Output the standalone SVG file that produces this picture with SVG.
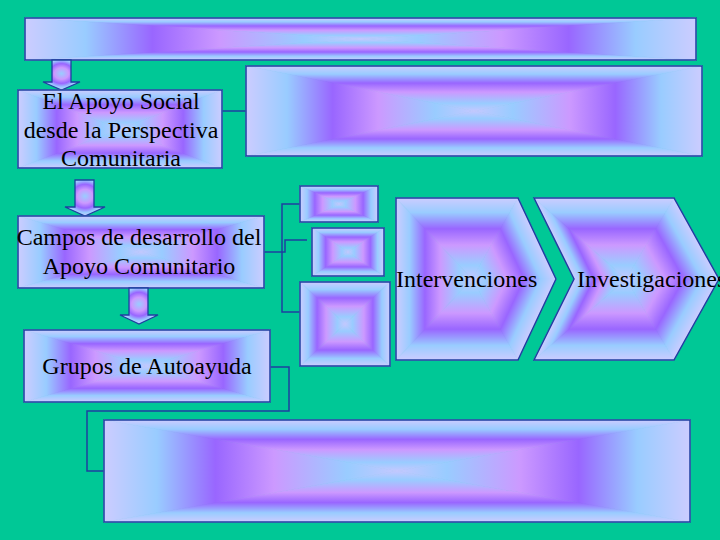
<svg xmlns="http://www.w3.org/2000/svg" xmlns:xlink="http://www.w3.org/1999/xlink" width="720" height="540" viewBox="0 0 720 540">
<defs>
<linearGradient id="st">
<stop offset="0" stop-color="#CCCCFF"/>
<stop offset="0.18" stop-color="#99CCFF"/>
<stop offset="0.38" stop-color="#9966FF"/>
<stop offset="0.58" stop-color="#CC99FF"/>
<stop offset="0.83" stop-color="#99CCFF"/>
<stop offset="1" stop-color="#C4C8FF"/>
</linearGradient>
<linearGradient id="gT" href="#st" xlink:href="#st" x1="0" y1="0" x2="0" y2="1"/>
<linearGradient id="gB" href="#st" xlink:href="#st" x1="0" y1="1" x2="0" y2="0"/>
<linearGradient id="gL" href="#st" xlink:href="#st" x1="0" y1="0" x2="1" y2="0"/>
<linearGradient id="gR" href="#st" xlink:href="#st" x1="1" y1="0" x2="0" y2="0"/>
<linearGradient id="c1t" href="#st" xlink:href="#st" gradientUnits="userSpaceOnUse" x1="472" y1="198" x2="472" y2="279"/>
<linearGradient id="c1b" href="#st" xlink:href="#st" gradientUnits="userSpaceOnUse" x1="472" y1="360" x2="472" y2="279"/>
<linearGradient id="c1l" href="#st" xlink:href="#st" gradientUnits="userSpaceOnUse" x1="396" y1="279" x2="472" y2="279"/>
<linearGradient id="c1u" href="#st" xlink:href="#st" gradientUnits="userSpaceOnUse" x1="540.85" y1="246.7" x2="472" y2="279"/>
<linearGradient id="c1d" href="#st" xlink:href="#st" gradientUnits="userSpaceOnUse" x1="540.85" y1="311.3" x2="472" y2="279"/>
<linearGradient id="c2t" href="#st" xlink:href="#st" gradientUnits="userSpaceOnUse" x1="626" y1="198" x2="626" y2="279"/>
<linearGradient id="c2b" href="#st" xlink:href="#st" gradientUnits="userSpaceOnUse" x1="626" y1="360" x2="626" y2="279"/>
<linearGradient id="c2u" href="#st" xlink:href="#st" gradientUnits="userSpaceOnUse" x1="697.07" y1="239.52" x2="626" y2="279"/>
<linearGradient id="c2d" href="#st" xlink:href="#st" gradientUnits="userSpaceOnUse" x1="697.07" y1="318.48" x2="626" y2="279"/>
<linearGradient id="c2lu" href="#st" xlink:href="#st" gradientUnits="userSpaceOnUse" x1="584.2" y1="299.6" x2="626" y2="279"/>
<linearGradient id="c2ld" href="#st" xlink:href="#st" gradientUnits="userSpaceOnUse" x1="584.2" y1="258.4" x2="626" y2="279"/>
<radialGradient id="ga" cx="0.5" cy="0.45" r="0.55">
<stop offset="0" stop-color="#99CCFF"/>
<stop offset="0.35" stop-color="#CC99FF"/>
<stop offset="0.6" stop-color="#9966FF"/>
<stop offset="0.82" stop-color="#99CCFF"/>
<stop offset="1" stop-color="#CCCCFF"/>
</radialGradient>
</defs>
<style>
.t{fill:url(#gT);stroke:url(#gT);stroke-width:.8}
.b{fill:url(#gB);stroke:url(#gB);stroke-width:.8}
.l{fill:url(#gL);stroke:url(#gL);stroke-width:.8}
.r{fill:url(#gR);stroke:url(#gR);stroke-width:.8}
.o{fill:none;stroke:#1E3FA0;stroke-width:1.5}
.arr{fill:url(#ga);stroke:#1E3FA0;stroke-width:1.3}
.cn{fill:none;stroke:#1E3FA0;stroke-width:1.5}
text{font-family:"Liberation Serif","Times New Roman",serif;font-size:24px;fill:#000}
.m{text-anchor:middle}
</style>
<rect width="720" height="540" fill="#00C896"/>

<g id="connectors">
<path class="cn" d="M222,111 H246"/>
<path class="cn" d="M264,252 H282 V204 H300"/>
<path class="cn" d="M282,252 V312 H300"/>
<path class="cn" d="M282,252 H285 V240 H307"/>
<path class="cn" d="M270,367 H289 V411 H87 V471 H104"/>
</g>

<g id="topbar">
<polygon class="t" points="25,18 696,18 360.5,39"/>
<polygon class="b" points="25,60 696,60 360.5,39"/>
<polygon class="l" points="25,18 25,60 360.5,39"/>
<polygon class="r" points="696,18 696,60 360.5,39"/>
<rect class="o" x="25" y="18" width="671" height="42"/>
</g>

<g id="arrow1">
<polygon class="arr" points="52,60 71,60 71,82 80,82 61.5,90 43,82 52,82"/>
</g>

<g id="apoyo">
<polygon class="t" points="18,90 222,90 120,129"/>
<polygon class="b" points="18,168 222,168 120,129"/>
<polygon class="l" points="18,90 18,168 120,129"/>
<polygon class="r" points="222,90 222,168 120,129"/>
<rect class="o" x="18" y="90" width="204" height="78"/>
<text class="m" x="121" y="109">El Apoyo Social</text>
<text class="m" x="121" y="138">desde la Perspectiva</text>
<text class="m" x="121" y="166">Comunitaria</text>
</g>

<g id="box2">
<polygon class="t" points="246,66 702,66 474,111"/>
<polygon class="b" points="246,156 702,156 474,111"/>
<polygon class="l" points="246,66 246,156 474,111"/>
<polygon class="r" points="702,66 702,156 474,111"/>
<rect class="o" x="246" y="66" width="456" height="90"/>
</g>

<g id="arrow2">
<polygon class="arr" points="75,180 94,180 94,207 105,207 85,216 65,207 75,207"/>
</g>

<g id="campos">
<polygon class="t" points="18,216 264,216 141,252"/>
<polygon class="b" points="18,288 264,288 141,252"/>
<polygon class="l" points="18,216 18,288 141,252"/>
<polygon class="r" points="264,216 264,288 141,252"/>
<rect class="o" x="18" y="216" width="246" height="72"/>
<text class="m" x="139" y="245">Campos de desarrollo del</text>
<text class="m" x="139" y="274">Apoyo Comunitario</text>
</g>

<g id="arrow3">
<polygon class="arr" points="129,288 148,288 148,315 158,315 139,324 120,315 129,315"/>
</g>

<g id="grupos">
<polygon class="t" points="24,330 270,330 147,366"/>
<polygon class="b" points="24,402 270,402 147,366"/>
<polygon class="l" points="24,330 24,402 147,366"/>
<polygon class="r" points="270,330 270,402 147,366"/>
<rect class="o" x="24" y="330" width="246" height="72"/>
<text class="m" x="147" y="374">Grupos de Autoayuda</text>
</g>

<g id="bottombox">
<polygon class="t" points="104,420 690,420 397,471"/>
<polygon class="b" points="104,522 690,522 397,471"/>
<polygon class="l" points="104,420 104,522 397,471"/>
<polygon class="r" points="690,420 690,522 397,471"/>
<rect class="o" x="104" y="420" width="586" height="102"/>
</g>

<g id="smallA">
<polygon class="t" points="300,186 378,186 339,204"/>
<polygon class="b" points="300,222 378,222 339,204"/>
<polygon class="l" points="300,186 300,222 339,204"/>
<polygon class="r" points="378,186 378,222 339,204"/>
<rect class="o" x="300" y="186" width="78" height="36"/>
</g>

<g id="smallB">
<polygon class="t" points="312,228 384,228 348,252"/>
<polygon class="b" points="312,276 384,276 348,252"/>
<polygon class="l" points="312,228 312,276 348,252"/>
<polygon class="r" points="384,228 384,276 348,252"/>
<rect class="o" x="312" y="228" width="72" height="48"/>
</g>

<g id="smallC">
<polygon class="t" points="300,282 390,282 345,324"/>
<polygon class="b" points="300,366 390,366 345,324"/>
<polygon class="l" points="300,282 300,366 345,324"/>
<polygon class="r" points="390,282 390,366 345,324"/>
<rect class="o" x="300" y="282" width="90" height="84"/>
</g>

<g id="intervenciones">
<polygon fill="url(#c1t)" stroke="url(#c1t)" stroke-width=".8" points="396,198 518,198 472,279"/>
<polygon fill="url(#c1b)" stroke="url(#c1b)" stroke-width=".8" points="396,360 518,360 472,279"/>
<polygon fill="url(#c1l)" stroke="url(#c1l)" stroke-width=".8" points="396,198 396,360 472,279"/>
<polygon fill="url(#c1u)" stroke="url(#c1u)" stroke-width=".8" points="518,198 556,279 472,279"/>
<polygon fill="url(#c1d)" stroke="url(#c1d)" stroke-width=".8" points="518,360 556,279 472,279"/>
<polygon class="o" points="396,198 518,198 556,279 518,360 396,360"/>
<text x="396" y="287">Intervenciones</text>
</g>

<g id="investigaciones">
<polygon fill="url(#c2t)" stroke="url(#c2t)" stroke-width=".8" points="534,198 674,198 626,279"/>
<polygon fill="url(#c2b)" stroke="url(#c2b)" stroke-width=".8" points="534,360 674,360 626,279"/>
<polygon fill="url(#c2u)" stroke="url(#c2u)" stroke-width=".8" points="674,198 719,279 626,279"/>
<polygon fill="url(#c2d)" stroke="url(#c2d)" stroke-width=".8" points="674,360 719,279 626,279"/>
<polygon fill="url(#c2lu)" stroke="url(#c2lu)" stroke-width=".8" points="534,198 574,279 626,279"/>
<polygon fill="url(#c2ld)" stroke="url(#c2ld)" stroke-width=".8" points="534,360 574,279 626,279"/>
<polygon class="o" points="534,198 674,198 719,279 674,360 534,360 574,279"/>
<text x="577" y="287">Investigaciones</text>
</g>
</svg>
